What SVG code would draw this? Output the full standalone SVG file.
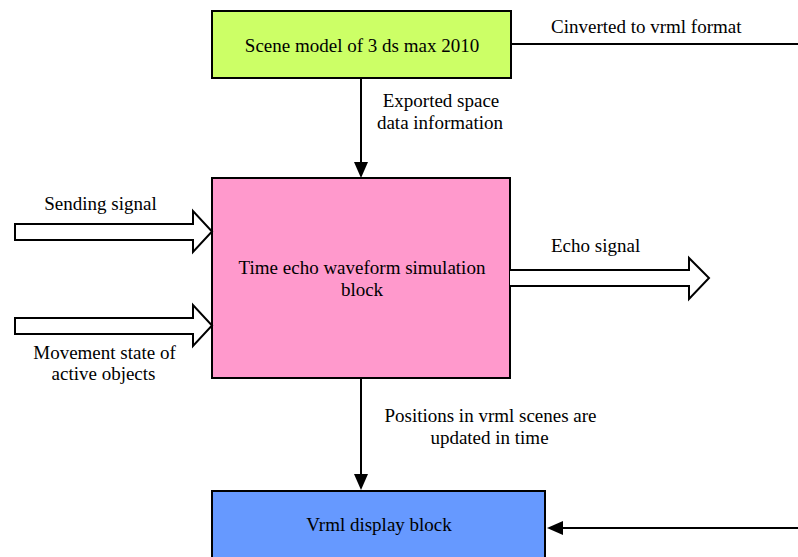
<svg xmlns="http://www.w3.org/2000/svg" width="798" height="557" viewBox="0 0 798 557">
<style>
.box{stroke:#000;stroke-width:2}
.ln{stroke:#000;stroke-width:2;fill:none}
.blk{fill:#fff;stroke:#000;stroke-width:2;stroke-linejoin:miter}
.c{text-anchor:middle}
</style>
<rect width="798" height="557" fill="#fff"/>
<g font-family="Liberation Serif, Times New Roman, serif" font-size="19" fill="#000">
<g id="scene">
<rect class="box" x="212" y="11" width="299" height="67" fill="#ccff66"/>
<text class="c" x="362" y="52">Scene model of 3 ds max 2010</text>
</g>
<g id="sim">
<rect class="box" x="212" y="178" width="298" height="200" fill="#ff99cc"/>
<text class="c" x="362" y="274">Time echo waveform simulation</text>
<text class="c" x="362" y="296">block</text>
</g>
<g id="vrml">
<rect class="box" x="212" y="491" width="333" height="70" fill="#6699ff"/>
<text class="c" x="379" y="531">Vrml display block</text>
</g>
<g id="connectors">
<line class="ln" x1="511" y1="44" x2="798" y2="44"/>
<path class="ln" d="M361,78 V164"/>
<path d="M354,162 L361,178 L368,162 z"/>
<path class="ln" d="M361,378 V476"/>
<path d="M354,474 L361,490 L368,474 z"/>
<path class="ln" d="M798,528 H562"/>
<path d="M563,521 L547,528 L563,535 z"/>
<path class="blk" d="M15,224 H193 V211 L212,231.5 L193,252 V240 H15 z"/>
<path class="blk" d="M15,318 H193 V305 L212,325.5 L193,346 V334 H15 z"/>
<path class="blk" d="M510,270 H689 V258 L709,278 L689,299 V286 H510"/>
</g>
<g id="labels">
<text x="551" y="33">Cinverted to vrml format</text>
<text class="c" x="441" y="107">Exported space</text>
<text class="c" x="440" y="129">data information</text>
<text class="c" x="100.5" y="210">Sending signal</text>
<text class="c" x="104.5" y="359">Movement state of</text>
<text class="c" x="103.5" y="380">active objects</text>
<text x="551" y="252">Echo signal</text>
<text class="c" x="490.5" y="422">Positions in vrml scenes are</text>
<text class="c" x="489.5" y="444">updated in time</text>
</g>
</g>
</svg>
